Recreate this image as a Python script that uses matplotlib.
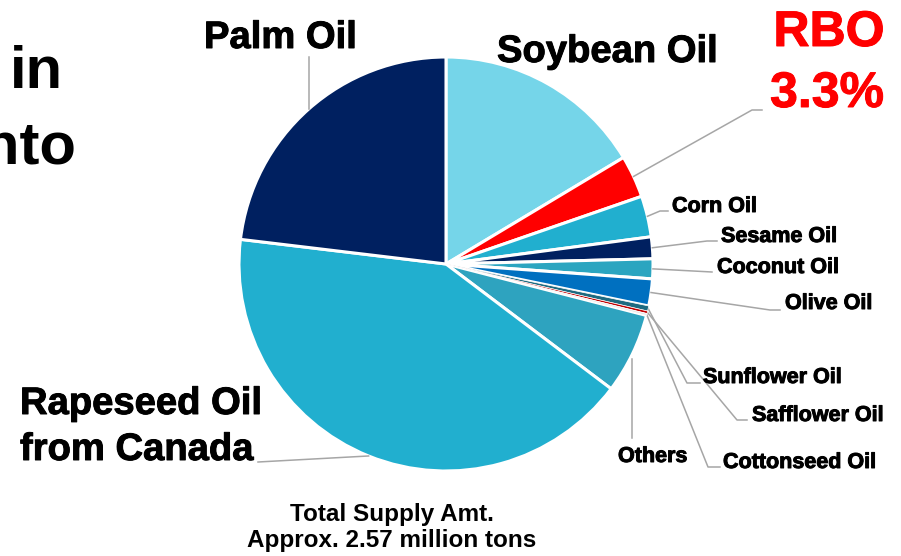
import numpy as np
import matplotlib
matplotlib.use("Agg")
import matplotlib.pyplot as plt
import matplotlib.patheffects as pe

# ---- data ----
categories = ["Soybean Oil", "RBO", "Corn Oil", "Sesame Oil", "Coconut Oil", "Olive Oil",
              "Sunflower Oil", "Safflower Oil", "Cottonseed Oil", "Others",
              "Rapeseed Oil\nfrom Canada", "Palm Oil"]
shares = [16.4, 3.3, 3.2, 1.7, 1.55, 2.1, 0.4, 0.2, 0.15, 6.3, 41.6, 23.1]
colors = ["#75D5E9", "#FF0000", "#21AFCF", "#002060", "#2BA5C0", "#0070C0",
          "#1D6A80", "#C00000", "#E8E8E8", "#2EA3BF", "#21AFCF", "#002060"]
rbo_label = "RBO\n3.3%"
total_note = "Total Supply Amt.\nApprox. 2.57 million tons"

plt.rcParams['font.family'] = ['Liberation Sans', 'DejaVu Sans']

W, H = 901, 556
fig = plt.figure(figsize=(W / 100, H / 100), dpi=100)
ax = fig.add_axes([0, 0, 1, 1])

cx, cy, R = 446, 264, 207
wedges, _ = ax.pie(shares, colors=colors, startangle=-90, counterclock=True,
                   center=(cx, cy), radius=R,
                   wedgeprops=dict(edgecolor="white", linewidth=2.2))
for i in (6, 7, 8):
    wedges[i].set_linewidth(0.5)
    wedges[i].set_zorder(3)
ax.set_xlim(0, W)
ax.set_ylim(H, 0)
ax.set_aspect('auto')
ax.axis('off')

def edge_pt(i):
    w = wedges[i]
    a = np.deg2rad((w.theta1 + w.theta2) / 2)
    return cx + R * np.cos(a), cy + R * np.sin(a)

LC = "#A6A6A6"
LW = 1.1

heavy = [pe.withStroke(linewidth=0.7, foreground='black')]
big = dict(fontsize=27.5, fontweight='bold', color='black', path_effects=heavy)
small = dict(fontsize=15.5, fontweight='bold', color='black', path_effects=heavy)

# Palm Oil
x0, y0 = edge_pt(11)
ax.plot([x0, x0], [y0, 57], color=LC, lw=LW)
ax.text(204, 48, categories[11], va='baseline', ha='left', **big)

# Soybean
ax.text(497, 62, categories[0], va='baseline', ha='left', **big)

# RBO
x0, y0 = edge_pt(1)
ax.plot([x0, 752, 762], [y0, 110, 110], color=LC, lw=LW)
red_heavy = [pe.withStroke(linewidth=0.7, foreground='#FF0000')]
r1, r2 = rbo_label.split("\n")
ax.text(829, 46, r1, va='baseline', ha='center', fontsize=36, fontweight='bold',
        color='#FF0000', path_effects=red_heavy)
ax.text(827, 107, r2, va='baseline', ha='center', fontsize=36, fontweight='bold',
        color='#FF0000', path_effects=red_heavy)

# small labels
specs = [
    (2, [(660, 211), (668, 211)], (672, 212)),
    (3, [(707, 241), (717, 241)], (721, 242)),
    (4, [(712, 272)], (717, 273)),
    (5, [(770, 310), (780, 310)], (785, 309)),
    (6, [(687, 383), (700, 383)], (703, 383)),
    (7, [(737, 420), (747, 420)], (752, 421)),
    (8, [(708, 467), (720, 467)], (723, 468)),
]
for i, pts, (tx, ty) in specs:
    x0, y0 = edge_pt(i)
    xs = [x0] + [p[0] for p in pts]
    ys = [y0] + [p[1] for p in pts]
    ax.plot(xs, ys, color=LC, lw=LW)
    ax.text(tx, ty, categories[i], va='baseline', ha='left', **small)

# Others
x0, y0 = edge_pt(9)
ax.plot([x0, x0], [y0 + 5, 438], color=LC, lw=LW)
ax.text(618, 462, categories[9], va='baseline', ha='left', **small)

# Rapeseed
x0, y0 = edge_pt(10)
ax.plot([x0, 258], [y0, 462], color=LC, lw=LW)
l1, l2 = categories[10].split("\n")
ax.text(20, 414, l1, va='baseline', ha='left', **big)
ax.text(20, 460, l2, va='baseline', ha='left', **big)

# bottom note
n1, n2 = total_note.split("\n")
ax.text(392, 521, n1, va='baseline', ha='center', fontsize=17.5, fontweight='bold')
ax.text(392, 547, n2, va='baseline', ha='center', fontsize=17.5, fontweight='bold')

# cropped title fragments (cut off at the left edge as in the original)
ax.text(10, 88, "in", va='baseline', ha='left', fontsize=43, fontweight='bold')
ax.text(76, 163, "nto", va='baseline', ha='right', fontsize=43, fontweight='bold')

fig.savefig("out.png", dpi=100)
